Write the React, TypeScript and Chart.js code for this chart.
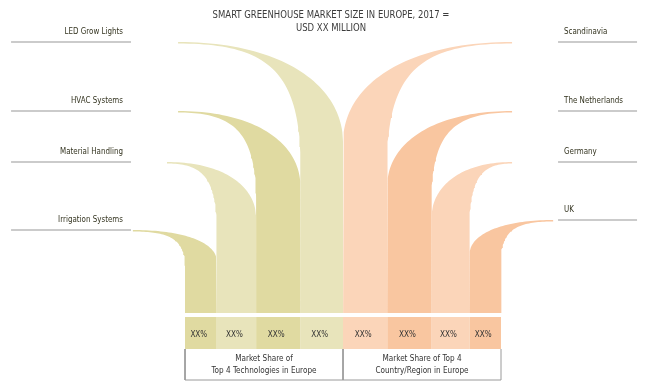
import React, { useEffect, useRef } from "react";
import { Chart, registerables } from "chart.js";

Chart.register(...registerables);

// ---------------- data ----------------
const titleLines = ["SMART GREENHOUSE MARKET SIZE IN EUROPE, 2017 =", "USD XX MILLION"];

const technologies = ["LED Grow Lights", "HVAC Systems", "Material Handling", "Irrigation Systems"];
const technologyShares = [27, 28, 25, 20]; // width of each column, % of the group
const technologyLeafHeights = [271, 202, 151, 83]; // height of each leaf tip
const technologyShareLabels = ["XX%", "XX%", "XX%", "XX%"];

const regions = ["Scandinavia", "The Netherlands", "Germany", "UK"];
const regionShares = [28, 28, 24, 20];
const regionLeafHeights = [271, 202, 151, 93];
const regionShareLabels = ["XX%", "XX%", "XX%", "XX%"];

const groupCaptions = [
  ["Market Share of", "Top 4 Technologies in Europe"],
  ["Market Share of Top 4", "Country/Region in Europe"],
];

// ---------------- style ----------------
const FONT = '"Liberation Sans Narrow", "DejaVu Sans Condensed", "Arial Narrow", sans-serif';
const OLIVE_LIGHT = "#e8e4bb";
const OLIVE_DARK = "#e0daa1";
const PEACH_LIGHT = "#fbd5b9";
const PEACH_DARK = "#f9c6a0";
const technologyColors = [OLIVE_LIGHT, OLIVE_DARK, OLIVE_LIGHT, OLIVE_DARK];
const regionColors = [PEACH_LIGHT, PEACH_DARK, PEACH_LIGHT, PEACH_DARK];
const technologyReach = [4.4, 4.4, 11.4, 33];
const regionReach = [7, 7, 7, 33];
const GROUP_SPAN = 100;
const X_RANGE = [-117.1, 294.3];
const Y_RANGE = [-73, 313];
const CELL_TOP = -4;
const CELL_BOTTOM = -36;
const BOX_BOTTOM = -67;
const LEFT_RULE = [-110.1, -34.2];
const RIGHT_RULE = [236.1, 286.1];
const OUTER_END = 0.63;
const INNER_END = 0.55;
const SQUEEZE = 0.88;

type P = { x: number; y: number };

function cubic(p0: P, p1: P, p2: P, p3: P, n: number): P[] {
  const out: P[] = [];
  for (let k = 0; k <= n; k++) {
    const t = k / n;
    const a = (1 - t) ** 3, b = 3 * (1 - t) ** 2 * t, c = 3 * (1 - t) * t * t, d = t ** 3;
    out.push({ x: a * p0.x + b * p1.x + c * p2.x + d * p3.x, y: a * p0.y + b * p1.y + c * p2.y + d * p3.y });
  }
  return out;
}

function leafOutline(x0: number, x1: number, tipX: number, h: number, side: "left" | "right"): P[] {
  const outerX = side === "left" ? x1 : x0;
  const innerX = side === "left" ? x0 : x1;
  const eO = h * OUTER_END;
  const eI = h * INNER_END;
  const pts: P[] = [];
  pts.push(
    ...cubic(
      { x: tipX, y: h },
      { x: tipX + 0.65 * (outerX - tipX), y: h },
      { x: outerX, y: h - 0.45 * (h - eO) },
      { x: outerX, y: eO },
      48
    )
  );
  pts.push({ x: outerX, y: 0 }, { x: innerX, y: 0 });
  const hi = h - 1.5;
  const inner = cubic(
    { x: tipX, y: hi },
    { x: tipX + 0.72 * (innerX - tipX), y: hi },
    { x: innerX, y: hi - 0.22 * (hi - eI) },
    { x: innerX, y: eI },
    48
  ).reverse();
  pts.push(...inner);
  return pts;
}

function rect(x0: number, x1: number, y0: number, y1: number): P[] {
  return [
    { x: x0, y: y0 },
    { x: x1, y: y0 },
    { x: x1, y: y1 },
    { x: x0, y: y1 },
  ];
}

function squeezedText(ctx: CanvasRenderingContext2D, text: string, x: number, y: number, sx = SQUEEZE) {
  ctx.save();
  ctx.translate(x, y);
  ctx.scale(sx, 1);
  ctx.fillText(text, 0, 0);
  ctx.restore();
}

export default function App() {
  const ref = useRef<HTMLCanvasElement | null>(null);

  useEffect(() => {
    if (!ref.current) return;

    type Col = { label: string; x0: number; x1: number; color: string; h: number; tipX: number; side: "left" | "right"; share: string };
    const cols: Col[] = [];
    let cursor = 0;
    for (let i = technologies.length - 1; i >= 0; i--) {
      const x0 = cursor;
      cursor += technologyShares[i];
      cols.push({
        label: technologies[i], x0, x1: cursor, color: technologyColors[i], h: technologyLeafHeights[i],
        tipX: -technologyReach[i], side: "left", share: technologyShareLabels[i],
      });
    }
    cursor = GROUP_SPAN;
    for (let i = 0; i < regions.length; i++) {
      const x0 = cursor;
      cursor += regionShares[i];
      cols.push({
        label: regions[i], x0, x1: cursor, color: regionColors[i], h: regionLeafHeights[i],
        tipX: 2 * GROUP_SPAN + regionReach[i], side: "right", share: regionShareLabels[i],
      });
    }

    const datasets: any[] = [];
    cols.forEach((c) => {
      datasets.push({
        label: c.label,
        data: leafOutline(c.x0, c.x1, c.tipX, c.h, c.side),
        backgroundColor: c.color,
        borderColor: c.color,
        borderWidth: 0,
        fill: "shape",
        order: 10 + c.h,
      });
      datasets.push({
        label: c.label + " share",
        data: rect(c.x0, c.x1, CELL_TOP, CELL_BOTTOM),
        backgroundColor: c.color,
        borderColor: c.color,
        borderWidth: 0,
        fill: "shape",
        order: 5,
      });
    });
    technologies.forEach((t, i) => {
      datasets.push({
        label: t + " rule",
        data: [{ x: LEFT_RULE[0], y: technologyLeafHeights[i] }, { x: LEFT_RULE[1], y: technologyLeafHeights[i] }],
        borderColor: "#cbcbcb",
        borderWidth: 2,
        fill: false,
        order: 1,
      });
    });
    regions.forEach((t, i) => {
      datasets.push({
        label: t + " rule",
        data: [{ x: RIGHT_RULE[0], y: regionLeafHeights[i] }, { x: RIGHT_RULE[1], y: regionLeafHeights[i] }],
        borderColor: "#cbcbcb",
        borderWidth: 2,
        fill: false,
        order: 1,
      });
    });
    datasets.push({
      label: "caption box",
      data: [
        { x: 0, y: CELL_BOTTOM },
        { x: 0, y: BOX_BOTTOM },
        { x: 2 * GROUP_SPAN, y: BOX_BOTTOM },
        { x: 2 * GROUP_SPAN, y: CELL_BOTTOM },
      ],
      borderColor: "#9a9a9a",
      borderWidth: 1,
      fill: false,
      order: 0,
    });
    datasets.push({
      label: "caption divider",
      data: [{ x: GROUP_SPAN, y: CELL_BOTTOM }, { x: GROUP_SPAN, y: BOX_BOTTOM }],
      borderColor: "#9a9a9a",
      borderWidth: 1,
      fill: false,
      order: 0,
    });

    const textPlugin = {
      id: "leafText",
      afterDatasetsDraw(chart: any) {
        const { ctx } = chart;
        const xs = chart.scales.x;
        const ys = chart.scales.y;
        ctx.save();
        ctx.textBaseline = "middle";

        // title
        ctx.textAlign = "center";
        ctx.fillStyle = "#3c3c3c";
        ctx.font = `10.5px ${FONT}`;
        const midX = xs.getPixelForValue(GROUP_SPAN) - 12;
        titleLines.forEach((line, k) => squeezedText(ctx, line, midX, 15 + k * 13, 0.9));

        // category labels
        ctx.font = `9px ${FONT}`;
        ctx.fillStyle = "#33331f";
        ctx.textAlign = "right";
        technologies.forEach((t, i) => {
          squeezedText(ctx, t, xs.getPixelForValue(LEFT_RULE[1]) - 8, ys.getPixelForValue(technologyLeafHeights[i]) - 10.5);
        });
        ctx.textAlign = "left";
        regions.forEach((t, i) => {
          squeezedText(ctx, t, xs.getPixelForValue(RIGHT_RULE[0]) + 6, ys.getPixelForValue(regionLeafHeights[i]) - 10.5);
        });

        // share labels
        ctx.textAlign = "center";
        ctx.fillStyle = "#333333";
        ctx.font = `8.5px ${FONT}`;
        cols.forEach((c) => {
          squeezedText(ctx, c.share, xs.getPixelForValue((c.x0 + c.x1) / 2) - 2, ys.getPixelForValue((CELL_TOP + CELL_BOTTOM) / 2 - 2), 0.95);
        });

        // captions
        ctx.font = `9px ${FONT}`;
        groupCaptions.forEach((lines, g) => {
          const cx = xs.getPixelForValue(g * GROUP_SPAN + GROUP_SPAN / 2);
          lines.forEach((line, k) => {
            squeezedText(ctx, line, cx, ys.getPixelForValue(CELL_BOTTOM - 10 - k * 12), 0.9);
          });
        });
        ctx.restore();
      },
    };

    const chart = new Chart(ref.current, {
      type: "line",
      data: { datasets },
      options: {
        animation: false,
        responsive: false,
        events: [],
        layout: { padding: 0 },
        elements: { point: { radius: 0, hoverRadius: 0 }, line: { tension: 0 } },
        plugins: {
          legend: { display: false },
          tooltip: { enabled: false },
          title: { display: false },
        },
        scales: {
          x: { type: "linear", display: false, min: X_RANGE[0], max: X_RANGE[1] },
          y: { type: "linear", display: false, min: Y_RANGE[0], max: Y_RANGE[1] },
        },
      },
      plugins: [textPlugin],
    } as any);

    return () => chart.destroy();
  }, []);

  return (
    <div style={{ position: "absolute", left: 0, top: 0, width: 650, height: 386, background: "#fff" }}>
      <canvas ref={ref} width={650} height={386} />
    </div>
  );
}
